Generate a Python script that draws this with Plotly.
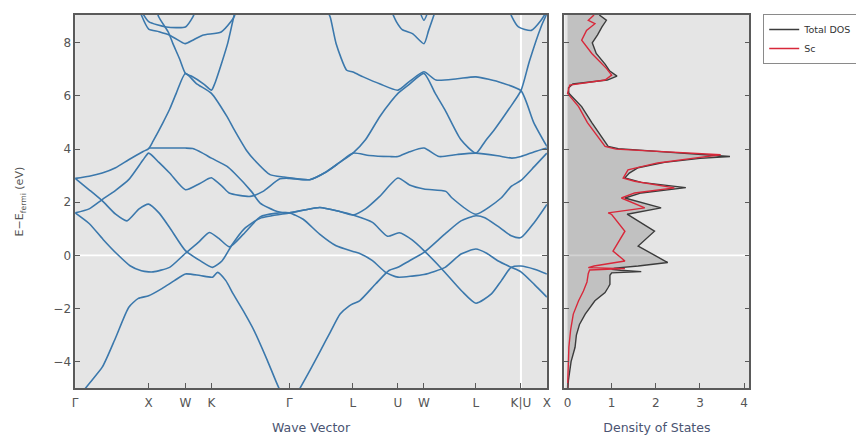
import plotly.graph_objects as go

# ---------------- data ----------------
kpath_ticks = [0.0, 1.0, 1.5, 1.854, 2.914, 3.780, 4.392, 4.746, 5.453, 6.066, 6.419]
kpath_labels = ["Γ", "X", "W", "K", "Γ", "L", "U", "W", "L", "K|U", "X"]
energy_ticks = [-4, -2, 0, 2, 4, 6, 8]
dos_ticks = [0, 1, 2, 3, 4]

band1_k = [0.0, 0.14, 0.37, 0.55, 0.73, 0.86, 1.0, 1.18, 1.35, 1.5, 1.7, 1.869, 1.937, 2.05, 2.15, 2.29, 2.436, 2.616, 2.773, 2.914,
           3.06, 3.2, 3.335, 3.47, 3.605, 3.73, 3.78, 3.87, 4.09, 4.27, 4.392, 4.55, 4.746, 5.03, 5.25, 5.453, 5.574, 5.75, 5.934, 6.066, 6.25, 6.419]
band1_e = [-5.6, -5.0, -4.2, -3.1, -1.95, -1.62, -1.52, -1.25, -0.95, -0.7, -0.76, -0.82, -0.64, -0.95, -1.45, -2.1, -2.84, -3.96, -5.0, -5.7,
           -5.0, -4.3, -3.6, -2.9, -2.21, -1.9, -1.82, -1.71, -1.07, -0.57, -0.45, -0.2, 0.11, 0.8, 1.3, 1.49, 1.42, 1.1, 0.74, 0.67, 1.25, 1.92]

band2_k = [0.0, 0.19, 0.38, 0.57, 0.746, 0.9, 1.0, 1.06, 1.285, 1.5, 1.68, 1.825, 1.95, 2.1, 2.29, 2.517, 2.72, 2.914,
           3.102, 3.326, 3.551, 3.78, 3.865, 4.046, 4.225, 4.392, 4.585, 4.746, 5.034, 5.25, 5.453, 5.6, 5.75, 5.934, 6.066, 6.25, 6.419]
band2_e = [1.6, 1.2, 0.6, 0.05, -0.39, -0.58, -0.62, -0.62, -0.45, 0.08, 0.5, 0.86, 0.65, 0.32, 0.8, 1.45, 1.58, 1.6,
           1.36, 0.8, 0.36, 0.15, 0.08, -0.2, -0.64, -0.82, -0.78, -0.72, -0.45, 0.05, 0.24, 0.08, -0.2, -0.45, -0.62, -1.1, -1.57]

band3_k = [0.0, 0.19, 0.37, 0.55, 0.705, 0.87, 1.0, 1.14, 1.285, 1.5, 1.7, 1.869, 2.0, 2.139, 2.3, 2.517, 2.914,
           3.1, 3.33, 3.6, 3.78, 4.046, 4.25, 4.41, 4.585, 4.746, 4.99, 5.26, 5.453, 5.664, 5.8, 5.934, 6.066, 6.25, 6.419]
band3_e = [2.9, 2.47, 2.05, 1.55, 1.3, 1.75, 1.93, 1.6, 1.05, 0.18, -0.2, -0.45, -0.2, 0.42, 1.0, 1.4, 1.6,
           1.7, 1.8, 1.65, 1.52, 1.24, 0.72, 0.85, 0.58, 0.18, -0.51, -1.34, -1.8, -1.45, -0.95, -0.45, -0.4, -0.52, -0.7]

band4_k = [0.0, 0.19, 0.368, 0.55, 0.728, 0.925, 1.0, 1.14, 1.285, 1.5, 1.69, 1.825, 1.854, 2.0, 2.094, 2.382, 2.55, 2.786, 2.914,
           3.191, 3.42, 3.6, 3.78, 4.0, 4.279, 4.392, 4.55, 4.746, 4.953, 5.2, 5.453, 5.75, 5.942, 6.066, 6.25, 6.419]
band4_e = [1.6, 1.75, 2.1, 2.45, 2.85, 3.6, 3.85, 3.5, 3.1, 2.47, 2.7, 2.9, 2.92, 2.6, 2.35, 2.22, 2.4, 2.88, 2.9,
           2.85, 3.15, 3.5, 3.85, 3.76, 3.72, 3.72, 3.9, 4.04, 3.72, 3.8, 3.85, 3.75, 3.66, 3.72, 3.9, 4.04]

band5_k = [0.0, 0.19, 0.368, 0.55, 0.728, 0.925, 1.0, 1.06, 1.195, 1.285, 1.375, 1.5, 1.649, 1.854, 2.067, 2.15, 2.337, 2.436, 2.651, 2.84, 2.914,
           3.191, 3.42, 3.6, 3.78, 3.95, 4.144, 4.3, 4.392, 4.55, 4.746, 4.9, 5.034, 5.25, 5.453, 5.58, 5.709, 5.9, 6.066, 6.18, 6.339, 6.419]
band5_e = [2.9, 2.98, 3.1, 3.3, 3.6, 3.91, 4.02, 4.3, 5.0, 5.5, 6.1, 6.85, 6.47, 6.1, 5.22, 4.8, 3.93, 3.6, 3.04, 2.95, 2.92,
           2.85, 3.15, 3.5, 3.85, 4.35, 5.22, 5.8, 6.1, 6.45, 6.85, 6.1, 5.47, 4.35, 3.85, 4.3, 4.75, 5.5, 6.2, 7.3, 8.6, 9.1]

band6_k = [1.0, 1.3, 1.5, 1.6, 1.734, 1.854, 2.067, 2.166, 2.4, 2.517, 2.75, 2.914,
           3.1, 3.33, 3.6, 3.78, 3.95, 4.144, 4.392, 4.55, 4.746, 5.044, 5.125, 5.453, 5.8, 5.934, 6.066, 6.25, 6.419]
band6_e = [4.04, 4.04, 4.04, 4.02, 3.85, 3.66, 3.35, 3.1, 2.4, 1.97, 1.65, 1.6,
           1.7, 1.8, 1.65, 1.52, 1.75, 2.22, 2.91, 2.65, 2.5, 2.41, 2.17, 1.55, 2.17, 2.6, 2.82, 3.35, 3.85]

band7_k = [1.10, 1.133, 1.268, 1.33, 1.42, 1.5, 1.58, 1.75, 1.854, 1.9, 2.0, 2.077, 2.16, 2.22]
band7_e = [9.5, 9.0, 8.4, 7.97, 7.4, 6.85, 6.75, 6.45, 6.22, 6.47, 7.3, 8.0, 9.0, 9.6]

band8_k = [0.85, 0.908, 1.0, 1.14, 1.285, 1.465, 1.5, 1.6, 1.734, 1.987, 2.12, 2.166, 2.2]
band8_e = [9.5, 9.0, 8.52, 8.42, 8.29, 8.0, 7.97, 8.1, 8.29, 8.41, 8.8, 9.0, 9.5]

band9_k = [0.9, 1.0, 1.24, 1.5, 1.6, 1.65]
band9_e = [9.2, 8.8, 8.6, 8.6, 8.97, 9.3]

band10_k = [3.40, 3.47, 3.551, 3.695, 3.78, 3.919, 4.15, 4.392, 4.55, 4.746, 4.909, 5.2, 5.453, 5.8, 6.066, 6.24, 6.419]
band10_e = [9.4, 8.97, 7.97, 6.97, 6.9, 6.72, 6.45, 6.22, 6.55, 6.91, 6.6, 6.65, 6.72, 6.5, 6.2, 5.0, 4.1]

band11_k = [4.24, 4.28, 4.37, 4.45, 4.59, 4.746, 4.81, 4.9, 4.93]
band11_e = [9.6, 9.35, 8.8, 8.5, 8.35, 7.97, 8.47, 9.2, 9.5]

band12_k = [4.68, 4.746, 4.81]
band12_e = [9.25, 8.85, 9.25]

band13_k = [5.9, 5.94, 6.032, 6.208, 6.339, 6.419]
band13_e = [9.3, 9.0, 8.6, 8.47, 8.85, 9.2]

dos_energy = [9.05, 8.85, 8.6, 8.3, 8.0, 7.6, 7.2, 6.95, 6.75, 6.6, 6.45, 6.3, 6.1, 5.6, 5.0, 4.4, 4.1, 4.02, 3.9, 3.8,
              3.72, 3.65, 3.5, 3.3, 3.1, 2.92, 2.75, 2.55, 2.35, 2.16, 1.79, 1.55, 0.91, 0.35, -0.27, -0.4, -0.48, -0.52, -0.56, -0.61,
              -0.66, -0.75, -1.09, -1.21, -1.4, -1.71, -2.21, -2.6, -3.0, -3.46, -4.0, -4.71, -5.0]
dos_total = [0.72, 0.88, 0.78, 0.68, 0.56, 0.65, 0.85, 0.95, 1.12, 0.9, 0.12, 0.02, 0.03, 0.32, 0.55, 0.8, 0.92, 1.15, 2.2, 3.1,
             3.68, 3.0, 2.2, 1.6, 1.4, 1.3, 1.67, 2.68, 1.67, 1.3, 2.12, 1.35, 1.97, 1.6, 2.27, 1.6, 1.07, 1.0, 1.2, 1.67,
             1.0, 0.96, 0.96, 0.92, 0.85, 0.62, 0.4, 0.27, 0.2, 0.17, 0.08, 0.02, 0.01]

sc_energy = [9.05, 8.85, 8.72, 8.47, 8.1, 7.6, 7.04, 6.79, 6.6, 6.41, 6.1, 5.6, 5.0, 4.4, 4.1, 4.0, 3.91, 3.79, 3.66, 3.48,
             3.22, 2.91, 2.79, 2.54, 2.35, 2.16, 1.79, 1.6, 1.54, 0.91, 0.16, -0.21, -0.4, -0.46, -0.5, -0.55, -0.68, -1.0, -1.34, -1.71,
             -2.21, -2.8, -3.46, -4.2, -5.0]
sc_dos = [0.6, 0.47, 0.62, 0.43, 0.32, 0.55, 0.88, 1.0, 0.85, 0.05, 0.0, 0.25, 0.45, 0.72, 0.85, 1.1, 2.12, 3.47, 2.87, 2.04,
          1.37, 1.26, 1.52, 2.42, 1.52, 1.22, 1.75, 0.92, 1.0, 1.3, 1.03, 1.3, 0.6, 0.47, 1.3, 0.5, 0.47, 0.44, 0.36, 0.25,
          0.13, 0.07, 0.03, 0.01, 0.0]

bands = [(band1_k, band1_e), (band2_k, band2_e), (band3_k, band3_e), (band4_k, band4_e), (band5_k, band5_e),
         (band6_k, band6_e), (band7_k, band7_e), (band8_k, band8_e), (band9_k, band9_e), (band10_k, band10_e),
         (band11_k, band11_e), (band12_k, band12_e), (band13_k, band13_e)]

# ---------------- figure ----------------
BAND_COLOR = "#3b78ac"
AXIS_COLOR = "#5a5a5a"
TICK_FONT = dict(family="DejaVu Sans", size=12, color="#555555")
TITLE_FONT = dict(family="DejaVu Sans", size=12.5, color="#4a5472")

fig = go.Figure()

for kk, ee in bands:
    fig.add_trace(go.Scatter(x=kk, y=ee, mode="lines", xaxis="x", yaxis="y",
                             line=dict(color=BAND_COLOR, width=1.6, shape="spline", smoothing=0.6),
                             showlegend=False, hoverinfo="skip"))

# DOS fill (total)
fig.add_trace(go.Scatter(x=dos_total, y=dos_energy, mode="none", xaxis="x2", yaxis="y2",
                         fill="tozerox", fillcolor="rgba(120,120,120,0.33)", showlegend=False, hoverinfo="skip"))
fig.add_trace(go.Scatter(x=dos_total, y=dos_energy, mode="lines", xaxis="x2", yaxis="y2",
                         line=dict(color="#3c3c3c", width=1.4), name="Total DOS"))
fig.add_trace(go.Scatter(x=sc_dos, y=sc_energy, mode="lines", xaxis="x2", yaxis="y2",
                         line=dict(color="#d8283a", width=1.4), name="Sc"))

common_axis = dict(showgrid=False, zeroline=False, showline=True, linecolor=AXIS_COLOR, linewidth=1.5,
                   ticks="inside", ticklen=5, tickwidth=1, tickcolor=AXIS_COLOR, tickfont=TICK_FONT)

# the page body adds an 8px margin, so the figure is 856x427 and fills the window
fig.update_layout(
    width=856, height=427,
    margin=dict(l=0, r=0, t=0, b=0),
    paper_bgcolor="white", plot_bgcolor="#e5e5e5",
    font=dict(family="DejaVu Sans"),
    xaxis=dict(domain=[0.0756, 0.6312], range=[0, 6.419], tickmode="array",
               tickvals=kpath_ticks, ticktext=kpath_labels, mirror=True, ticklabelstandoff=3,
               title=dict(text="Wave Vector", font=TITLE_FONT, standoff=16), **common_axis),
    yaxis=dict(domain=[0.1054, 0.9836], range=[-5, 9.05], tickmode="array", tickvals=energy_ticks,
               mirror="ticks", title=dict(text="E−E<sub>fermi</sub> (eV)",
                                          font=dict(family="DejaVu Sans", size=11, color="#555555"), standoff=27),
               **common_axis),
    xaxis2=dict(domain=[0.6519, 0.8697], range=[-0.07, 4.12], anchor="y2", tickmode="array",
                tickvals=dos_ticks, mirror=True, ticklabelstandoff=3,
                title=dict(text="Density of States", font=TITLE_FONT, standoff=16), **common_axis),
    yaxis2=dict(domain=[0.1054, 0.9836], range=[-5, 9.05], anchor="x2", matches="y",
                tickmode="array", tickvals=energy_ticks, showticklabels=False, mirror="ticks", **common_axis),
    legend=dict(x=0.886, y=0.986, xanchor="left", yanchor="top", bgcolor="white",
                bordercolor="#8a8a8a", borderwidth=1, font=dict(family="DejaVu Sans", size=9.5, color="#333333"),
                tracegroupgap=0, itemwidth=30),
    shapes=[
        dict(type="line", xref="x", yref="y", x0=0, x1=6.419, y0=0, y1=0,
             line=dict(color="white", width=1.6), layer="below"),
        dict(type="line", xref="x", yref="y", x0=6.066, x1=6.066, y0=-5, y1=9.05,
             line=dict(color="white", width=2), layer="below"),
        dict(type="line", xref="x2", yref="y2", x0=-0.07, x1=4.12, y0=0, y1=0,
             line=dict(color="white", width=1.6), layer="below"),
    ],
)

fig.write_html("out.html")
